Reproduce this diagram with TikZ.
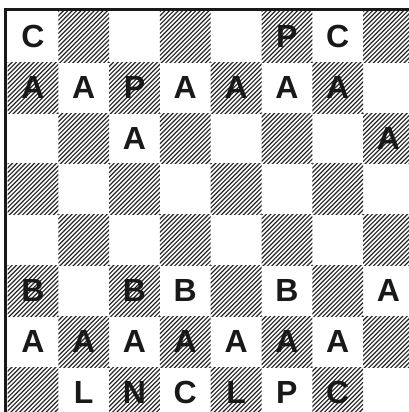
\documentclass[tikz,border=0pt]{standalone}
\usepackage{fontspec}
\setmainfont{Liberation Sans}
\begin{document}
\begin{tikzpicture}[x=1pt,y=-1pt,
  piece/.style={font=\fontsize{32}{32}\selectfont\bfseries, text=black!90, inner sep=0pt, anchor=center},
  hatchline/.style={line width=1.15pt, black!85},
  frame/.style={line width=3pt, black!90}]
\useasboundingbox (0,0) rectangle (409,412);
\def\sq{50.8}
\def\ox{7.5}
\def\oy{11.5}
% hatched squares
\foreach \r in {0,...,7}{
  \foreach \c in {0,...,7}{
    \pgfmathtruncatemacro{\odd}{mod(\r+\c,2)}
    \ifnum\odd=1
      \begin{scope}
        \pgfmathsetmacro{\xa}{\ox+\c*\sq}
        \pgfmathsetmacro{\ya}{\oy+\r*\sq}
        \clip (\xa,\ya) rectangle ++(\sq,\sq);
        \foreach \k in {-57.2,-52.8,...,57.2}{
          \draw[hatchline] (\xa+\k,\ya+\sq+2) -- ++(\sq+4,-\sq-4);
        }
      \end{scope}
    \fi
  }
}
% frame
\draw[frame] (5.5,420) -- (5.5,10) -- (420,10);
% pieces
\newcommand{\pc}[4]{\node[piece] (#1) at ({\ox+(#3+0.5)*\sq},{\oy+(#2+0.5)*\sq}) {#4};}
\pc{c00}{0}{0}{C}
\pc{p05}{0}{5}{P}
\pc{c06}{0}{6}{C}
\pc{a10}{1}{0}{A}
\pc{a11}{1}{1}{A}
\pc{p12}{1}{2}{P}
\pc{a13}{1}{3}{A}
\pc{a14}{1}{4}{A}
\pc{a15}{1}{5}{A}
\pc{a16}{1}{6}{A}
\pc{a22}{2}{2}{A}
\pc{a27}{2}{7}{A}
\pc{b50}{5}{0}{B}
\pc{b52}{5}{2}{B}
\pc{b53}{5}{3}{B}
\pc{b55}{5}{5}{B}
\pc{a57}{5}{7}{A}
\pc{a60}{6}{0}{A}
\pc{a61}{6}{1}{A}
\pc{a62}{6}{2}{A}
\pc{a63}{6}{3}{A}
\pc{a64}{6}{4}{A}
\pc{a65}{6}{5}{A}
\pc{a66}{6}{6}{A}
\pc{l71}{7}{1}{L}
\pc{n72}{7}{2}{N}
\pc{c73}{7}{3}{C}
\pc{l74}{7}{4}{L}
\pc{p75}{7}{5}{P}
\pc{c76}{7}{6}{C}
\end{tikzpicture}
\end{document}
